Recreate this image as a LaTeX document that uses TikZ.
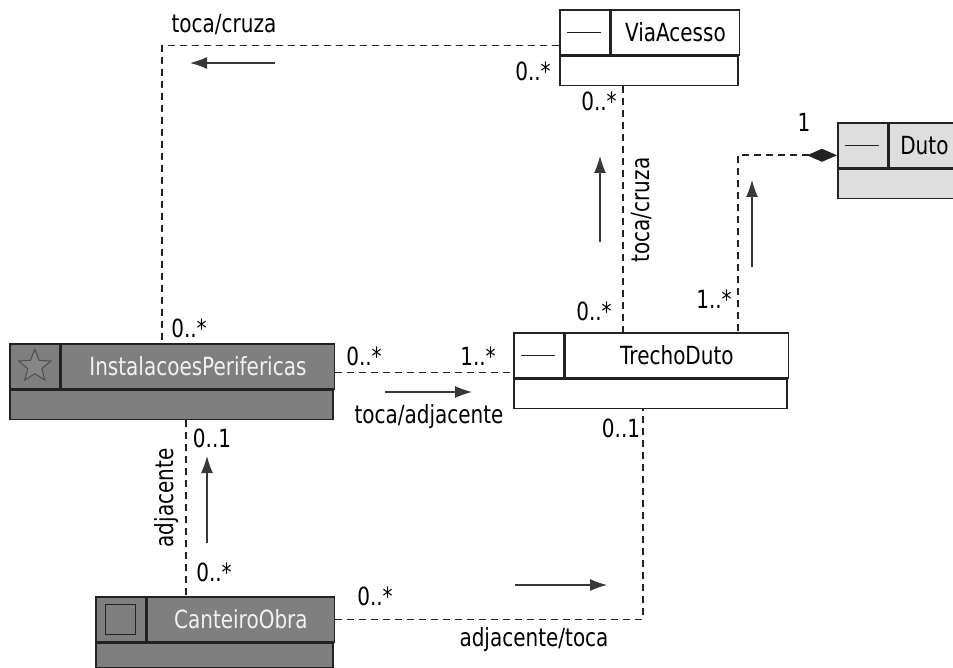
\documentclass[tikz,border=0pt]{standalone}
\usepackage{fontspec}
\setmainfont{DejaVu Sans}[FakeStretch=0.8]
\usetikzlibrary{arrows.meta, positioning, shapes.geometric}

\definecolor{clsdark}{HTML}{7F7F7F}
\definecolor{clslight}{HTML}{DEDEDE}
\definecolor{clstext}{HTML}{F2F2F2}
\definecolor{linegray}{HTML}{222222}

\begin{document}
\begin{tikzpicture}[
        x=1pt, y=-1pt,
        font=\fontsize{25}{29}\selectfont,
        icon/.style={draw=linegray, line width=1.6pt, minimum width=50pt, minimum height=45pt, inner sep=0pt, anchor=north west},
        head/.style={draw=linegray, line width=1.6pt, minimum height=45pt, inner sep=0pt},
        comp/.style={draw=linegray, line width=1.6pt, minimum height=29pt, inner sep=0pt},
        assoc/.style={draw=linegray, line width=1.6pt, dash pattern=on 7pt off 5pt},
        dirarrow/.style={-{Latex[length=17pt, width=12pt]}, line width=1.2pt, draw=linegray!90!white},
        mult/.style={inner sep=1pt}
    ]
        \useasboundingbox (0,0) rectangle (953,668);
        \clip (0,0) rectangle (953,668);

        % Classes
        \node[icon] (viaicon) at (559,9) {};
        \node[head, minimum width=128pt, right=0pt of viaicon] (viahead) {ViaAcesso};
        \node[comp, minimum width=178pt, below right=0pt and 0pt of viaicon.south west] (viacomp) {};

        \node[icon, fill=clslight] (dutoicon) at (837,122) {};
        \node[head, fill=clslight, minimum width=70pt, right=0pt of dutoicon] (dutohead) {Duto};
        \node[comp, fill=clslight, minimum width=120pt, below right=0pt and 0pt of dutoicon.south west] (dutocomp) {};

        \node[icon] (trechoicon) at (513,332) {};
        \node[head, minimum width=223pt, right=0pt of trechoicon] (trechohead) {TrechoDuto};
        \node[comp, minimum width=273pt, below right=0pt and 0pt of trechoicon.south west] (trechocomp) {};

        \node[icon, fill=clsdark] (insticon) at (9,343) {};
        \node[head, fill=clsdark, text=clstext, minimum width=273pt, right=0pt of insticon] (insthead) {InstalacoesPerifericas};
        \node[comp, fill=clsdark, minimum width=323pt, below right=0pt and 0pt of insticon.south west] (instcomp) {};

        \node[icon, fill=clsdark] (canticon) at (95,596) {};
        \node[head, fill=clsdark, text=clstext, minimum width=187pt, right=0pt of canticon] (canthead) {CanteiroObra};
        \node[comp, fill=clsdark, minimum width=237pt, minimum height=24pt, below right=0pt and 0pt of canticon.south west] (cantcomp) {};

        % Icons
        \draw[line width=1.3pt, linegray] ([xshift=8pt]viaicon.west) -- ([xshift=-10pt]viaicon.east);
        \draw[line width=1.3pt, linegray] ([xshift=8pt]dutoicon.west) -- ([xshift=-10pt]dutoicon.east);
        \draw[line width=1.3pt, linegray] ([xshift=8pt]trechoicon.west) -- ([xshift=-10pt]trechoicon.east);
        \node[star, star points=5, star point ratio=2.3, draw=linegray!80!white, fill=gray!95!white, line width=1pt, minimum size=34pt, inner sep=0pt] (inststar) at (insticon) {};
        \node[draw=linegray, line width=1.3pt, minimum size=30pt, inner sep=0pt] (cantsquare) at (canticon) {};

        % Associations
        \draw[assoc] ([yshift=10pt]viaicon.south west) -| ([xshift=153pt]insticon.north west);
        \draw[assoc] ([xshift=-26pt]viacomp.south) -- ([xshift=-26pt]viacomp.south |- trechohead.north);
        \draw[assoc, {Diamond[length=30pt, width=13pt]}-] ([yshift=-10pt]dutoicon.west) -| ([xshift=-51pt]trechohead.north east);
        \draw[assoc] ([yshift=-6pt]insthead.east) -- ([yshift=-6pt]insthead.east -| trechoicon.west);
        \draw[assoc] ([xshift=14.5pt]instcomp.south) -- ([xshift=14.5pt]instcomp.south |- canticon.north);
        \draw[assoc] (canthead.east) -| ([xshift=-7.5pt]trechocomp.south);

        % Reading directions
        \draw[dirarrow] (275,63) -- (190,63);
        \draw[dirarrow] (600,242) -- (600,156);
        \draw[dirarrow] (752,267) -- (752,180);
        \draw[dirarrow] (385,392) -- (472,392);
        \draw[dirarrow] (207,543) -- (207,456);
        \draw[dirarrow] (515,585) -- (607,585);

        % Labels
        \node (lblviainst) at (224,25) {toca/cruza};
        \node[rotate=90] (lblviatrecho) at (642,210) {toca/cruza};
        \node (lblinsttrecho) at (429,417) {toca/adjacente};
        \node[rotate=90] (lblcantinst) at (167,498) {adjacente};
        \node (lblcanttrecho) at (534,640) {adjacente/toca};

        % Multiplicities
        \node[mult] (mviaw) at (533,71) {0..*};
        \node[mult] (mvias) at (599,101) {0..*};
        \node[mult] (mtrechon) at (594,311) {0..*};
        \node[mult] (mtrechoduto) at (714,299) {1..*};
        \node[mult] (mduto) at (804,122) {1};
        \node[mult] (minstn) at (189,328) {0..*};
        \node[mult] (minste) at (364,356) {0..*};
        \node[mult] (mtrechow) at (478,356) {1..*};
        \node[mult] (minsts) at (212,438) {0..1};
        \node[mult] (mcantn) at (214,572) {0..*};
        \node[mult] (mcante) at (375,596) {0..*};
        \node[mult] (mtrechos) at (621,428) {0..1};
    \end{tikzpicture}
\end{document}
